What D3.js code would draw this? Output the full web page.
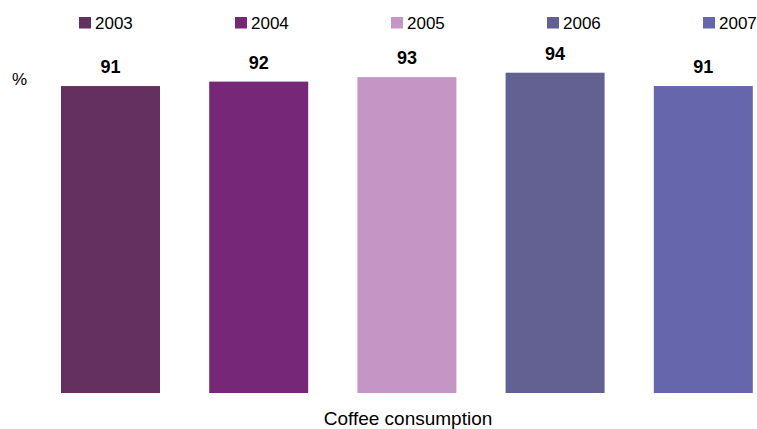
<!DOCTYPE html>
<html>
<head>
<meta charset="utf-8">
<script src="https://cdn.jsdelivr.net/npm/d3@7"></script>
<style>
  html, body { margin: 0; padding: 0; background: #fff; }
  svg { display: block; font-family: "Liberation Sans", Arial, sans-serif; }
</style>
</head>
<body>
<svg id="chart" width="757" height="429"></svg>
<script>
// Coffee consumption share by year (%)
const years = ["2003", "2004", "2005", "2006", "2007"];
const values = [91, 92, 93, 94, 91];
const colors = ["#63305f", "#772777", "#c596c5", "#636191", "#6566ab"];
const categoryLabel = "Coffee consumption";
const unitLabel = "%";

const svg = d3.select("#chart");
const baseline = 393;

const x = d3.scaleBand()
  .domain(years)
  .range([36.4, 777.4])
  .paddingInner(0.332)
  .paddingOuter(0.166);

const y = d3.scaleLinear()
  .domain([22, 94])
  .range([baseline, 72.7]);

const color = d3.scaleOrdinal().domain(years).range(colors);

// Bars
svg.append("g").selectAll("rect")
  .data(years)
  .join("rect")
  .attr("x", d => x(d))
  .attr("width", x.bandwidth())
  .attr("y", (d, i) => y(values[i]))
  .attr("height", (d, i) => baseline - y(values[i]))
  .attr("fill", d => color(d));

// Value labels above bars
svg.append("g").selectAll("text")
  .data(years)
  .join("text")
  .attr("x", d => x(d) + x.bandwidth() / 2)
  .attr("y", (d, i) => y(values[i]) - 13)
  .attr("text-anchor", "middle")
  .attr("font-size", 18)
  .attr("font-weight", "bold")
  .attr("fill", "#000")
  .text((d, i) => values[i]);

// Legend
const lx = d3.scaleBand().domain(years).range([79, 79 + 156 * 5]);
const legend = svg.append("g").selectAll("g")
  .data(years)
  .join("g")
  .attr("transform", d => `translate(${lx(d)},17)`);
legend.append("rect")
  .attr("width", 12)
  .attr("height", 11.5)
  .attr("fill", d => color(d));
legend.append("text")
  .attr("x", 16)
  .attr("y", 11.5)
  .attr("font-size", 17)
  .attr("fill", "#000")
  .text(d => d);

// Unit label
svg.append("text")
  .attr("x", 12)
  .attr("y", 85)
  .attr("font-size", 17)
  .attr("fill", "#000")
  .text(unitLabel);

// Category label
svg.append("text")
  .attr("x", 408)
  .attr("y", 425)
  .attr("text-anchor", "middle")
  .attr("font-size", 19)
  .attr("fill", "#000")
  .text(categoryLabel);
</script>
</body>
</html>
